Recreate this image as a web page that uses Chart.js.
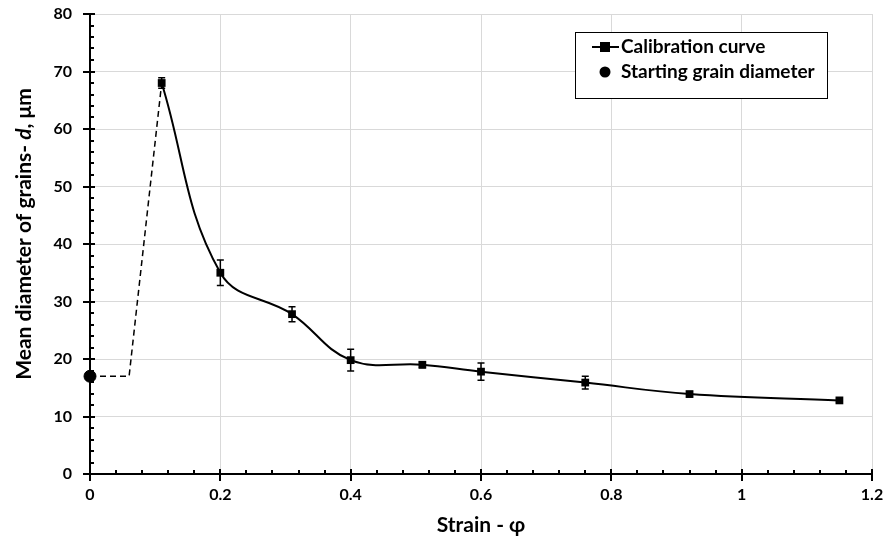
<!DOCTYPE html>
<html><head><meta charset="utf-8">
<script src="https://cdn.jsdelivr.net/npm/chart.js@4/dist/chart.umd.min.js"></script>
<style>html,body{margin:0;padding:0;background:#fff}</style>
</head><body>
<canvas id="c" width="886" height="546"></canvas>
<script>
// ---- data ----
const strain = [0.11, 0.2, 0.31, 0.4, 0.51, 0.6, 0.76, 0.92, 1.15];
const diameter = [68, 35, 27.8, 19.8, 19, 17.8, 15.9, 13.9, 12.8];
const errorBars = [0.9, 2.2, 1.3, 1.9, 0.5, 1.5, 1.1, 0.4, 0.3];
const startStrain = [0];
const startDiameter = [17];
const linkStrain = [0, 0.06, 0.11];
const linkDiameter = [17, 17, 68];
const xTicks = [0, 0.2, 0.4, 0.6, 0.8, 1, 1.2];
const yTicks = [0, 10, 20, 30, 40, 50, 60, 70, 80];
const xMinorStep = 0.04;
const yMinorStep = 2;
const seriesNames = ['Calibration curve', 'Starting grain diameter'];

const FONT = 'Lato, "Open Sans", sans-serif';
Chart.defaults.font.family = FONT;

const toPts = (xs, ys) => xs.map((x, i) => ({x: x, y: ys[i]}));

const axisTicksPlugin = {
  id: 'axisTicks',
  beforeDatasetsDraw(chart) {
    const ctx = chart.ctx, xs = chart.scales.x, ys = chart.scales.y, a = chart.chartArea;
    ctx.save();
    ctx.strokeStyle = '#000';
    ctx.lineWidth = 2;
    ctx.beginPath();
    for (let v = yTicks[0]; v <= yTicks[yTicks.length-1] + 1e-9; v += yMinorStep) {
      const p = Math.round(ys.getPixelForValue(v));
      const major = yTicks.some(t => Math.abs(t - v) < 1e-6);
      if (major) { ctx.moveTo(a.left - 7, p); ctx.lineTo(a.left + 5, p); }
      else { ctx.moveTo(a.left, p); ctx.lineTo(a.left + 4, p); }
    }
    for (let k = 0; k * xMinorStep <= xTicks[xTicks.length-1] + 1e-9; k++) {
      const v = k * xMinorStep;
      const p = Math.round(xs.getPixelForValue(v));
      const major = xTicks.some(t => Math.abs(t - v) < 1e-6);
      if (major) { ctx.moveTo(p, a.bottom + 7); ctx.lineTo(p, a.bottom - 5); }
      else { ctx.moveTo(p, a.bottom); ctx.lineTo(p, a.bottom - 4); }
    }
    ctx.stroke();
    ctx.restore();
  }
};

const errorBarPlugin = {
  id: 'errorBars',
  afterDatasetsDraw(chart) {
    const ctx = chart.ctx, xs = chart.scales.x, ys = chart.scales.y;
    ctx.save();
    ctx.strokeStyle = '#000';
    ctx.lineWidth = 1.5;
    ctx.beginPath();
    strain.forEach((s, i) => {
      const px = xs.getPixelForValue(s);
      const t = ys.getPixelForValue(diameter[i] + errorBars[i]);
      const b = ys.getPixelForValue(diameter[i] - errorBars[i]);
      ctx.moveTo(px, t); ctx.lineTo(px, b);
      ctx.moveTo(px - 3.5, t); ctx.lineTo(px + 3.5, t);
      ctx.moveTo(px - 3.5, b); ctx.lineTo(px + 3.5, b);
    });
    ctx.stroke();
    ctx.restore();
  }
};

const decorPlugin = {
  id: 'decor',
  afterDraw(chart) {
    const ctx = chart.ctx;
    ctx.save();
    const parts = [
      {t: 'Mean diameter of grains- ', f: 'bold 21px ' + FONT},
      {t: 'd', f: 'italic bold 21px ' + FONT},
      {t: ', \u03bcm', f: 'bold 21px ' + FONT}
    ];
    let total = 0;
    parts.forEach(p => { ctx.font = p.f; p.w = ctx.measureText(p.t).width; total += p.w; });
    ctx.translate(24, 234);
    ctx.rotate(-Math.PI / 2);
    ctx.fillStyle = '#000';
    ctx.textBaseline = 'middle';
    ctx.textAlign = 'left';
    let x = -total / 2;
    parts.forEach(p => { ctx.font = p.f; ctx.fillText(p.t, x, 0); x += p.w; });
    ctx.restore();

    // legend
    ctx.save();
    const bx = 575, by = 32, bw = 252, bh = 66;
    ctx.fillStyle = '#fff';
    ctx.fillRect(bx, by, bw, bh);
    ctx.strokeStyle = '#000';
    ctx.lineWidth = 1;
    ctx.strokeRect(bx + 0.5, by + 0.5, bw, bh);
    ctx.font = 'bold 19px ' + FONT;
    ctx.fillStyle = '#000';
    ctx.textBaseline = 'middle';
    const r1 = by + 15, r2 = by + 40, mx = 605;
    ctx.lineWidth = 2;
    ctx.beginPath(); ctx.moveTo(592, r1); ctx.lineTo(619, r1); ctx.stroke();
    ctx.fillRect(mx - 5, r1 - 5, 10, 10);
    ctx.beginPath(); ctx.arc(mx, r2, 5.5, 0, Math.PI * 2); ctx.fill();
    ctx.fillText(chart.data.datasets[0].label, 621, r1);
    ctx.fillText(chart.data.datasets[1].label, 621, r2);
    ctx.restore();
  }
};

new Chart(document.getElementById('c'), {
  type: 'scatter',
  data: {
    datasets: [
      {
        label: seriesNames[0],
        data: toPts(strain, diameter),
        showLine: true,
        tension: 0.4,
        borderColor: '#000',
        borderWidth: 2,
        backgroundColor: '#000',
        pointStyle: 'rect',
        pointRadius: 5.5,
        pointBorderWidth: 0,
        clip: false,
        order: 2
      },
      {
        label: seriesNames[1],
        data: toPts(startStrain, startDiameter),
        showLine: false,
        backgroundColor: '#000',
        borderColor: '#000',
        pointStyle: 'circle',
        pointRadius: 6,
        clip: false,
        order: 1
      },
      {
        label: 'link',
        data: toPts(linkStrain, linkDiameter),
        showLine: true,
        tension: 0,
        borderColor: '#000',
        borderWidth: 1.5,
        borderDash: [6, 4],
        pointRadius: 0,
        clip: false,
        order: 3
      }
    ]
  },
  plugins: [axisTicksPlugin, errorBarPlugin, decorPlugin],
  options: {
    responsive: false,
    animation: false,
    devicePixelRatio: 1,
    layout: {padding: {left: 0, right: 14, top: 14, bottom: 0}},
    plugins: {legend: {display: false}, tooltip: {enabled: false}},
    scales: {
      x: {
        type: 'linear', min: 0, max: 1.2,
        afterBuildTicks: s => { s.ticks = xTicks.map(v => ({value: v})); },
        afterFit: s => { s.height = 72; },
        ticks: {font: {size: 16, weight: 'bold'}, color: '#000', padding: 2, callback: v => String(v)},
        grid: {color: '#d9d9d9', lineWidth: 1, drawTicks: true, tickLength: 9, tickColor: 'rgba(0,0,0,0)'},
        border: {color: '#000', width: 2},
        title: {display: true, text: 'Strain - \u03c6', font: {size: 21, weight: 'bold'}, color: '#000', padding: {top: 4, bottom: 8}}
      },
      y: {
        type: 'linear', min: 0, max: 80,
        afterBuildTicks: s => { s.ticks = yTicks.map(v => ({value: v})); },
        afterFit: s => { s.width = 90; },
        ticks: {font: {size: 16, weight: 'bold'}, color: '#000', padding: 4, callback: v => String(v)},
        grid: {color: '#d9d9d9', lineWidth: 1, drawTicks: true, tickLength: 14, tickColor: 'rgba(0,0,0,0)'},
        border: {color: '#000', width: 2}
      }
    }
  }
});
</script>
</body></html>
